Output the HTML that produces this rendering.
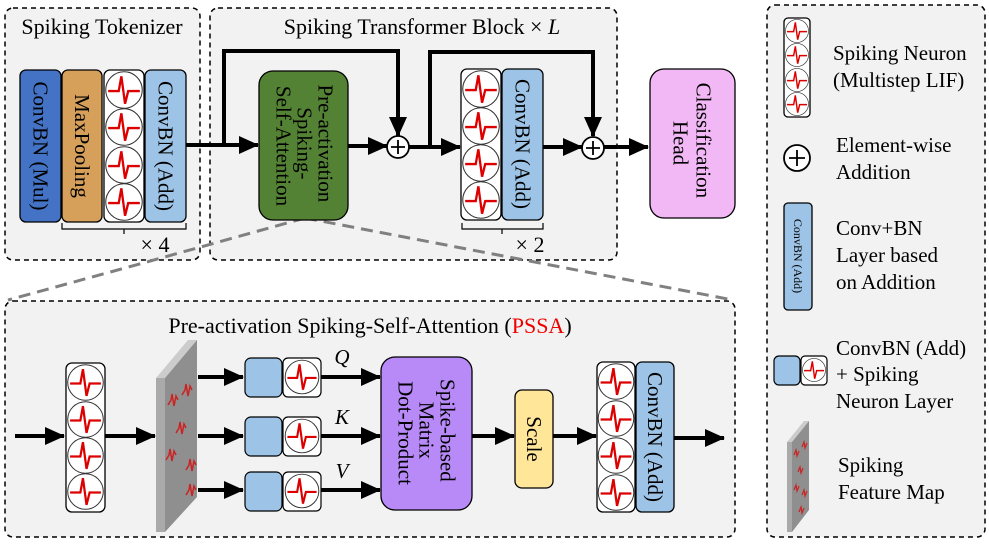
<!DOCTYPE html>
<html><head><meta charset="utf-8"><style>
html,body{margin:0;padding:0;background:#fff;}
svg text{font-family:"Liberation Serif","Times New Roman",serif;}
</style></head><body>
<svg width="989" height="542" viewBox="0 0 989 542" xmlns="http://www.w3.org/2000/svg">
<defs>
<symbol id="n" viewBox="0 0 36 36">
<circle cx="18" cy="18" r="17.3" fill="#fff" stroke="#333" stroke-width="1"/>
<path d="M3,19 L10,19 L13,19 L15.5,5 L19,31 L22,19 L33,19" fill="none" stroke="#d00" stroke-width="2.2"/>
</symbol>
<marker id="ab" markerWidth="20" markerHeight="18" refX="19" refY="9" orient="auto" markerUnits="userSpaceOnUse" viewBox="0 0 20 18">
<path d="M0,0 L20,9 L0,18z" fill="#000"/>
</marker>
</defs>

<rect x="5" y="8" width="195" height="252" rx="8" fill="#f2f2f2" stroke="#000" stroke-width="1.5" stroke-dasharray="5,4"/>
<rect x="210" y="8" width="407" height="252" rx="8" fill="#f2f2f2" stroke="#000" stroke-width="1.5" stroke-dasharray="5,4"/>
<rect x="767" y="5" width="218" height="532" rx="8" fill="#f2f2f2" stroke="#000" stroke-width="1.5" stroke-dasharray="5,4"/>
<rect x="5" y="301" width="730" height="236" rx="8" fill="#f2f2f2" stroke="#000" stroke-width="1.5" stroke-dasharray="5,4"/>

<path d="M305,218 L125,268 L8,300" fill="none" stroke="#808080" stroke-width="3" stroke-dasharray="12,7"/>
<path d="M305,218 L733,300" fill="none" stroke="#808080" stroke-width="3" stroke-dasharray="12,7"/>

<text x="102" y="34" font-size="22" text-anchor="middle">Spiking Tokenizer</text>
<text x="422" y="34" font-size="22" text-anchor="middle">Spiking Transformer Block × <tspan font-style="italic">L</tspan></text>
<text x="370" y="333" font-size="22" text-anchor="middle">Pre-activation Spiking-Self-Attention (<tspan fill="#e00">PSSA</tspan>)</text>

<!-- Tokenizer -->
<rect x="20" y="70" width="41" height="152" rx="6" fill="#4472c4" stroke="#000" stroke-width="1.3"/>
<text transform="translate(40.5,146) rotate(90)" font-size="21" text-anchor="middle" dominant-baseline="central">ConvBN (Mul)</text>
<rect x="62" y="70" width="40" height="152" rx="6" fill="#d6a05a" stroke="#000" stroke-width="1.3"/>
<text transform="translate(82,146) rotate(90)" font-size="21" text-anchor="middle" dominant-baseline="central">MaxPooling</text>
<rect x="104" y="70" width="40" height="152" rx="6" fill="#fff" stroke="#000" stroke-width="1.3"/>
<use href="#n" x="105" y="71" width="38" height="38"/>
<use href="#n" x="105" y="108" width="38" height="38"/>
<use href="#n" x="105" y="146" width="38" height="38"/>
<use href="#n" x="105" y="183" width="38" height="38"/>
<rect x="145" y="70" width="41" height="152" rx="6" fill="#9dc3e6" stroke="#000" stroke-width="1.3"/>
<text transform="translate(165.5,146) rotate(90)" font-size="21" text-anchor="middle" dominant-baseline="central">ConvBN (Add)</text>
<path d="M62,223 L62,229 L186,229 L186,223 M124,229 L124,234" fill="none" stroke="#000" stroke-width="1.2"/>
<text x="155" y="252" font-size="22" text-anchor="middle">× 4</text>

<!-- Transformer block -->
<path d="M186,145 L258,145" stroke="#000" stroke-width="4" marker-end="url(#ab)"/>
<path d="M224,145 L224,51 L398,51 L398,136" fill="none" stroke="#000" stroke-width="4" marker-end="url(#ab)"/>
<rect x="259" y="71" width="89" height="149" rx="14" fill="#548235" stroke="#000" stroke-width="1.3"/>
<text transform="translate(303.5,146) rotate(90)" font-size="21" text-anchor="middle">
<tspan x="0" y="-22" dominant-baseline="central">Pre-activation</tspan>
<tspan x="0" y="-1" dominant-baseline="central">Spiking-</tspan>
<tspan x="0" y="20" dominant-baseline="central">Self-Attention</tspan></text>
<path d="M348,146 L387,146" stroke="#000" stroke-width="4" marker-end="url(#ab)"/>
<circle cx="398" cy="147" r="11" fill="#fff" stroke="#000" stroke-width="1.8"/>
<path d="M391,147 L405,147 M398,140 L398,154" stroke="#000" stroke-width="1.8"/>
<path d="M409,147 L460,147" stroke="#000" stroke-width="4" marker-end="url(#ab)"/>
<path d="M430,147 L430,52 L593,52 L593,136" fill="none" stroke="#000" stroke-width="4" marker-end="url(#ab)"/>
<rect x="461" y="69" width="40" height="151" rx="6" fill="#fff" stroke="#000" stroke-width="1.3"/>
<use href="#n" x="462" y="70" width="38" height="38"/>
<use href="#n" x="462" y="107" width="38" height="38"/>
<use href="#n" x="462" y="144" width="38" height="38"/>
<use href="#n" x="462" y="181" width="38" height="38"/>
<rect x="502" y="69" width="41" height="151" rx="6" fill="#9dc3e6" stroke="#000" stroke-width="1.3"/>
<text transform="translate(522.5,144) rotate(90)" font-size="21" text-anchor="middle" dominant-baseline="central">ConvBN (Add)</text>
<path d="M462,223 L462,229 L543,229 L543,223 M502,229 L502,234" fill="none" stroke="#000" stroke-width="1.2"/>
<text x="530" y="252" font-size="22" text-anchor="middle">× 2</text>
<path d="M543,147 L582,147" stroke="#000" stroke-width="4" marker-end="url(#ab)"/>
<circle cx="593" cy="148" r="11" fill="#fff" stroke="#000" stroke-width="1.8"/>
<path d="M586,148 L600,148 M593,141 L593,155" stroke="#000" stroke-width="1.8"/>
<path d="M604,147 L648,147" stroke="#000" stroke-width="4" marker-end="url(#ab)"/>
<rect x="650" y="69" width="85" height="149" rx="14" fill="#f2b8f5" stroke="#000" stroke-width="1.3"/>
<text transform="translate(692.5,143) rotate(90)" font-size="21" text-anchor="middle">
<tspan x="0" y="-11" dominant-baseline="central">Classification</tspan>
<tspan x="0" y="12" dominant-baseline="central">Head</tspan></text>

<!-- PSSA content -->
<path d="M15,436 L64,436" stroke="#000" stroke-width="4" marker-end="url(#ab)"/>
<rect x="66" y="363" width="39" height="149" rx="6" fill="#fff" stroke="#000" stroke-width="1.3"/>
<use href="#n" x="67" y="364" width="37" height="37"/>
<use href="#n" x="67" y="401" width="37" height="37"/>
<use href="#n" x="67" y="437" width="37" height="37"/>
<use href="#n" x="67" y="473" width="37" height="37"/>
<path d="M105,436 L155,436" stroke="#000" stroke-width="4" marker-end="url(#ab)"/>
<polygon points="156,378 165,378 165,532 156,532" fill="#aaa"/>
<polygon points="156,378 188,340 197,340 165,378" fill="#ccc"/>
<polygon points="165,378 197,340 197,497 165,532" fill="#8f8f8f"/>
<g fill="none" stroke="#c22" stroke-width="1.5">
<path d="M168,405 l3,-5 l1,-6 l2,12 l2,-10 l2,4"/><path d="M182,395 l3,-5 l1,-6 l2,12 l2,-10 l2,4"/>
<path d="M176,433 l3,-5 l1,-6 l2,12 l2,-10 l2,4"/><path d="M166,460 l3,-5 l1,-6 l2,12 l2,-10 l2,4"/>
<path d="M186,470 l3,-5 l1,-6 l2,12 l2,-10 l2,4"/><path d="M186,495 l3,-5 l1,-6 l2,12 l2,-10 l2,4"/>
</g>
<path d="M198,377 L243,377" stroke="#000" stroke-width="4" marker-end="url(#ab)"/>
<path d="M198,436 L243,436" stroke="#000" stroke-width="4" marker-end="url(#ab)"/>
<path d="M198,490 L243,490" stroke="#000" stroke-width="4" marker-end="url(#ab)"/>
<rect x="245" y="358" width="37" height="39" rx="6" fill="#9dc3e6" stroke="#000" stroke-width="1.2"/>
<rect x="283" y="358" width="38" height="39" rx="5" fill="#fff" stroke="#000" stroke-width="1.2"/>
<use href="#n" x="284.5" y="359.5" width="35" height="35"/>
<rect x="245" y="417" width="37" height="39" rx="6" fill="#9dc3e6" stroke="#000" stroke-width="1.2"/>
<rect x="283" y="417" width="38" height="39" rx="5" fill="#fff" stroke="#000" stroke-width="1.2"/>
<use href="#n" x="284.5" y="418.5" width="35" height="35"/>
<rect x="245" y="472" width="37" height="39" rx="6" fill="#9dc3e6" stroke="#000" stroke-width="1.2"/>
<rect x="283" y="472" width="38" height="39" rx="5" fill="#fff" stroke="#000" stroke-width="1.2"/>
<use href="#n" x="284.5" y="473.5" width="35" height="35"/>
<text x="342" y="364" font-size="21" font-style="italic" text-anchor="middle">Q</text>
<text x="342" y="424" font-size="21" font-style="italic" text-anchor="middle">K</text>
<text x="342" y="478" font-size="21" font-style="italic" text-anchor="middle">V</text>
<path d="M321,377 L380,377" stroke="#000" stroke-width="4" marker-end="url(#ab)"/>
<path d="M321,436 L380,436" stroke="#000" stroke-width="4" marker-end="url(#ab)"/>
<path d="M321,490 L380,490" stroke="#000" stroke-width="4" marker-end="url(#ab)"/>
<rect x="381" y="357" width="91" height="153" rx="14" fill="#b78af7" stroke="#000" stroke-width="1.3"/>
<text transform="translate(426.5,433) rotate(90)" font-size="21" text-anchor="middle">
<tspan x="0" y="-21" dominant-baseline="central">Spike-based</tspan>
<tspan x="0" y="0" dominant-baseline="central">Matrix</tspan>
<tspan x="0" y="21" dominant-baseline="central">Dot-Product</tspan></text>
<path d="M472,436 L514,436" stroke="#000" stroke-width="4" marker-end="url(#ab)"/>
<rect x="515" y="390" width="38" height="98" rx="7" fill="#ffe699" stroke="#000" stroke-width="1.3"/>
<text transform="translate(534,439) rotate(90)" font-size="21" text-anchor="middle" dominant-baseline="central">Scale</text>
<path d="M553,436 L596,436" stroke="#000" stroke-width="4" marker-end="url(#ab)"/>
<rect x="597" y="362" width="38" height="150" rx="6" fill="#fff" stroke="#000" stroke-width="1.3"/>
<use href="#n" x="597.5" y="363" width="37" height="37"/>
<use href="#n" x="597.5" y="400" width="37" height="37"/>
<use href="#n" x="597.5" y="437" width="37" height="37"/>
<use href="#n" x="597.5" y="474" width="37" height="37"/>
<rect x="636" y="362" width="38" height="150" rx="6" fill="#9dc3e6" stroke="#000" stroke-width="1.3"/>
<text transform="translate(655,437) rotate(90)" font-size="21" text-anchor="middle" dominant-baseline="central">ConvBN (Add)</text>
<path d="M674,438 L724,438" stroke="#000" stroke-width="4" marker-end="url(#ab)"/>

<!-- Legend -->
<rect x="784" y="18" width="26" height="99" rx="4" fill="#fff" stroke="#000" stroke-width="1.3"/>
<use href="#n" x="785" y="19" width="24" height="24"/>
<use href="#n" x="785" y="43" width="24" height="24"/>
<use href="#n" x="785" y="68" width="24" height="24"/>
<use href="#n" x="785" y="92" width="24" height="24"/>
<text x="833" y="60" font-size="21">Spiking Neuron</text>
<text x="833" y="87" font-size="21">(Multistep LIF)</text>
<circle cx="797" cy="158" r="13" fill="#fff" stroke="#000" stroke-width="1.8"/>
<path d="M789,158 L805,158 M797,150 L797,166" stroke="#000" stroke-width="1.8"/>
<text x="836" y="152" font-size="21">Element-wise</text>
<text x="836" y="179" font-size="21">Addition</text>
<rect x="784" y="203" width="28" height="107" rx="4" fill="#9dc3e6" stroke="#000" stroke-width="1.3"/>
<text transform="translate(798,256) rotate(90)" font-size="12" text-anchor="middle" dominant-baseline="central">ConvBN (Add)</text>
<text x="836" y="235" font-size="21">Conv+BN</text>
<text x="836" y="262" font-size="21">Layer based</text>
<text x="836" y="289" font-size="21">on Addition</text>
<rect x="774" y="356" width="26" height="29" rx="5" fill="#9dc3e6" stroke="#000" stroke-width="1.2"/>
<rect x="801" y="356" width="26" height="29" rx="4" fill="#fff" stroke="#000" stroke-width="1.2"/>
<use href="#n" x="802" y="358" width="24" height="24"/>
<text x="836" y="355" font-size="21">ConvBN (Add)</text>
<text x="836" y="381" font-size="21">+ Spiking</text>
<text x="836" y="408" font-size="21">Neuron Layer</text>
<polygon points="787,442 792,442 792,532 787,532" fill="#aaa"/>
<polygon points="787,442 804,421 809,421 792,442" fill="#ccc"/>
<polygon points="792,442 809,421 809,510 792,532" fill="#8f8f8f"/>
<g fill="none" stroke="#c22" stroke-width="1.2">
<path d="M794,455 l2,-5 l1,6 l2,-5"/><path d="M802,447 l2,-5 l1,6 l2,-5"/>
<path d="M798,472 l2,-5 l1,6 l2,-5"/><path d="M794,490 l2,-5 l1,6 l2,-5"/>
<path d="M802,495 l2,-5 l1,6 l2,-5"/><path d="M799,512 l2,-5 l1,6 l2,-5"/>
</g>
<text x="838" y="472" font-size="21">Spiking</text>
<text x="838" y="499" font-size="21">Feature Map</text>
</svg>
</body></html>
